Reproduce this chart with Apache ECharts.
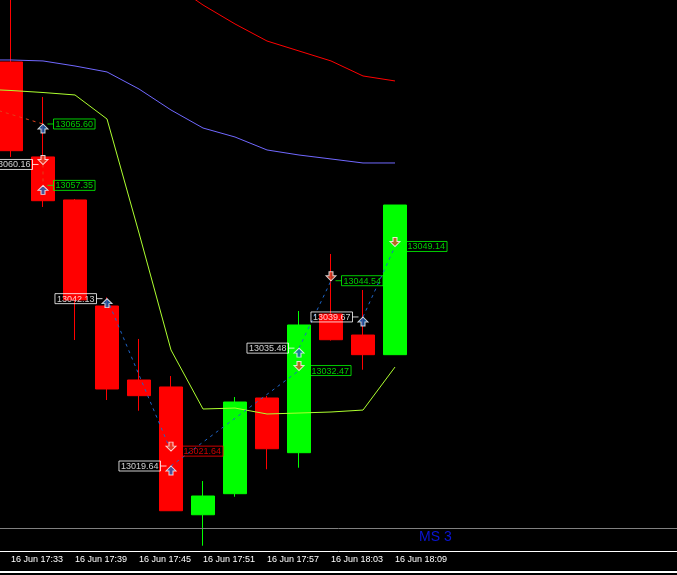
<!DOCTYPE html>
<html>
<head>
<meta charset="utf-8">
<title>M3 candles with trade marks</title>
<script src="https://cdn.jsdelivr.net/npm/echarts@6/dist/echarts.min.js"></script>
<style>
  html, body { margin: 0; padding: 0; background: #000; }
  #chart { width: 677px; height: 575px; }
</style>
</head>
<body>
<div id="chart"></div>
<script>
// Bar 0 sits just off the left edge: it is only there so the bands and the
// first trade line run in from outside the window, as they do in the terminal.
const TIMES = [
  "16 Jun 17:30", "16 Jun 17:33", "16 Jun 17:36", "16 Jun 17:39", "16 Jun 17:42",
  "16 Jun 17:45", "16 Jun 17:48", "16 Jun 17:51", "16 Jun 17:54", "16 Jun 17:57",
  "16 Jun 18:00", "16 Jun 18:03", "16 Jun 18:06", "16 Jun 18:09",
];
const SHIFT_SLOTS = 9; // empty bars to the right of the last candle (chart shift)

// [open, close, low, high]
const CANDLES = [
  "-",
  [13073.93, 13062.01, 13061.17, 13086.00],
  [13061.17, 13055.29, 13054.45, 13069.23],
  [13055.39, 13041.95, 13036.57, 13055.52],
  [13041.14, 13029.99, 13028.51, 13042.30],
  [13031.20, 13029.09, 13027.07, 13036.71],
  [13030.26, 13013.63, 13013.59, 13031.73],
  [13013.09, 13015.61, 13008.93, 13017.62],
  [13015.92, 13028.24, 13015.51, 13028.91],
  [13028.78, 13021.96, 13019.20, 13029.05],
  [13021.43, 13038.59, 13019.41, 13040.47],
  [13040.07, 13036.61, 13036.50, 13048.13],
  [13037.24, 13034.60, 13032.58, 13043.29],
  [13034.60, 13054.71, 13034.60, 13054.71],
];

const UPPER_BAND = [13098.0, 13096.0, 13094.0, 13092.0, 13090.0, 13087.5, 13084.55,
  13081.59, 13079.04, 13076.75, 13075.41, 13074.07, 13072.05, 13071.38];
const MIDDLE_BAND = [13074.20, 13074.20, 13074.07, 13073.39, 13072.59, 13070.30, 13067.48,
  13065.06, 13063.85, 13062.11, 13061.43, 13060.90, 13060.36, 13060.36];
const LOWER_BAND = [13070.30, 13070.10, 13069.83, 13069.50, 13066.27, 13050.95, 13035.23,
  13027.30, 13027.43, 13026.63, 13026.76, 13026.90, 13027.16, 13032.94];

// Trade marks: [bar index, price, label kind]. Opens are labelled white on the
// left, closes green (profit) or red (loss) on the right.
const BUY_MARKS = [
  [2, 13065.60, "profit"],
  [2, 13057.35, "profit"],
  [4, 13042.13, "open"],
  [6, 13019.64, "open"],
  [10, 13035.48, "open"],
  [12, 13039.67, "open"],
];
const SELL_MARKS = [
  [2, 13060.16, "open"],
  [6, 13021.64, "loss"],
  [10, 13032.47, "profit"],
  [11, 13044.54, "profit"],
  [13, 13049.14, "profit"],
];

// Open -> close of each trade, drawn as the terminal's dotted trade line.
const SELL_TRADES = [
  [[0, 13068.19], [2, 13065.60]],
  [[2, 13060.16], [2, 13057.35]],
];
const BUY_TRADES = [
  [[4, 13042.13], [6, 13021.64]],
  [[6, 13019.64], [10, 13032.47]],
  [[10, 13035.48], [11, 13044.54]],
  [[12, 13039.67], [13, 13049.14]],
];

const LEVEL_LINE = 13011.31;
const PRICE_MIN = 13008.22;
const PRICE_MAX = 13082.26;

const LABEL_COLOR = { open: "#ffffff", profit: "#00ff00", loss: "#ff0000" };
const FONT = "'Liberation Sans', Arial, sans-serif";

const ARROW_UP = "path://M5,0 L10,5 L7,5 L7,9 L3,9 L3,5 L0,5 Z";
const ARROW_DOWN = "path://M3,0 L7,0 L7,4 L10,4 L5,9 L0,4 L3,4 Z";

const categories = TIMES.concat(new Array(SHIFT_SLOTS).fill(""));
const isLabelled = (i, v) => i % 2 === 1 && v !== "";

// The short connector between mark and box is a 1px-high rich token, so the
// box and its tail stay glued together whatever the font measures.
function markLabel(kind, price) {
  const c = LABEL_COLOR[kind];
  const left = kind === "open";
  const txt = price.toFixed(2);
  return {
    show: true,
    position: left ? "left" : "right",
    distance: 4,
    formatter: left ? `{b|${txt}}{l|}` : `{l|}{b|${txt}}`,
    rich: {
      l: { width: 6, height: 1, backgroundColor: c },
      b: {
        color: c, fontSize: 9, fontFamily: FONT, lineHeight: 11,
        borderColor: c, borderWidth: 1, padding: [1, 2, 0, 2],
      },
    },
  };
}

function arrowSeries(marks, up) {
  return {
    type: "scatter",
    symbol: up ? ARROW_UP : ARROW_DOWN,
    symbolSize: [10, 9],
    symbolOffset: [0, up ? 4.5 : -4.5],
    itemStyle: { color: up ? "#1e64b8" : "#e5452a", borderColor: "#ffffff", borderWidth: 1 },
    data: marks.map((m) => [m[0], m[1]]),
    z: 5,
  };
}

function labelSeries(marks) {
  return {
    type: "scatter",
    symbol: "circle",
    symbolSize: 1,
    itemStyle: { color: "rgba(0,0,0,0)" },
    data: marks.map((m) => ({ value: [m[0], m[1]], label: markLabel(m[2], m[1]) })),
    z: 6,
  };
}

function tradeSeries(trades, color) {
  return trades.map((t) => ({
    type: "line",
    data: t,
    showSymbol: false,
    lineStyle: { color, width: 1, type: [3, 4] },
    z: 4,
  }));
}

function bandSeries(values, color) {
  return {
    type: "line",
    data: values,
    showSymbol: false,
    lineStyle: { color, width: 1 },
    z: 3,
  };
}

const option = {
  backgroundColor: "#000000",
  animation: false,
  // outerBoundsMode 'none': let the plot start left of the canvas, so bar 1
  // lands where the terminal put it instead of being pulled into view.
  grid: { left: -37, width: 736, top: 0, height: 551, outerBoundsMode: "none" },
  xAxis: {
    type: "category",
    data: categories,
    boundaryGap: true,
    axisLine: { lineStyle: { color: "#ffffff", width: 1 } },
    axisTick: {
      alignWithLabel: true,
      interval: isLabelled,
      length: 4,
      lineStyle: { color: "#ffffff" },
    },
    axisLabel: {
      interval: isLabelled,
      align: "left",
      margin: 4,
      color: "#ffffff",
      fontSize: 9,
      fontFamily: FONT,
    },
    splitLine: { show: false },
  },
  yAxis: {
    type: "value",
    min: PRICE_MIN,
    max: PRICE_MAX,
    show: false,
  },
  series: [
    {
      type: "candlestick",
      data: CANDLES,
      barWidth: 23,
      clip: true,
      itemStyle: {
        color: "#00ff00", borderColor: "#00ff00",
        color0: "#ff0000", borderColor0: "#ff0000",
        borderWidth: 1,
      },
      markLine: {
        silent: true,
        symbol: ["none", "none"],
        label: { show: false },
        lineStyle: { color: "#808080", width: 1, type: "solid" },
        data: [{ yAxis: LEVEL_LINE }],
      },
      z: 2,
    },
    bandSeries(UPPER_BAND, "#ff0000"),
    bandSeries(MIDDLE_BAND, "#7068ff"),
    bandSeries(LOWER_BAND, "#adff2f"),
    ...tradeSeries(SELL_TRADES, "#e0401c"),
    ...tradeSeries(BUY_TRADES, "#1e64c8"),
    arrowSeries(BUY_MARKS, true),
    arrowSeries(SELL_MARKS, false),
    labelSeries(BUY_MARKS),
    labelSeries(SELL_MARKS),
  ],
  graphic: [
    {
      type: "text",
      left: 419,
      top: 530,
      style: { text: "MS 3", fill: "#0a14d4", font: "14px " + FONT },
    },
    { type: "rect", left: 0, top: 571, shape: { width: 677, height: 2 }, style: { fill: "#ffffff" } },
  ],
};

const chart = echarts.init(document.getElementById("chart"));
chart.setOption(option);
</script>
</body>
</html>
